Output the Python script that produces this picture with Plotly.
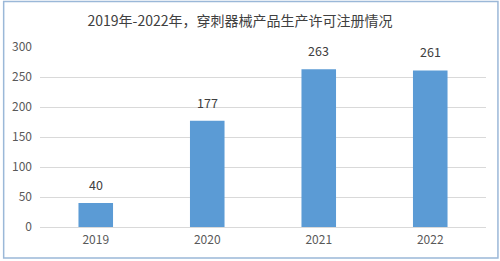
import plotly.graph_objects as go

years = ["2019", "2020", "2021", "2022"]
counts = [40, 177, 263, 261]
y_ticks = [0, 50, 100, 150, 200, 250, 300]
title_text = "2019年-2022年，穿刺器械产品生产许可注册情况"

W, H = 500, 261
L, R, T, B = 38, 14, 47, 34
pw, ph = W - L - R, H - T - B

fig = go.Figure(go.Bar(
    x=years, y=counts,
    marker=dict(color="#5b9bd5", line=dict(width=0)),
    cliponaxis=False,
))

# category axis: annotation x given as category index
for i, v in enumerate(counts):
    fig.add_annotation(x=i, y=v, xref="x", yref="y", text=str(v), showarrow=False,
                       yanchor="bottom", yshift=7, font=dict(size=12.5, color="#404040"))

def px_x(p):
    return (p - L) / pw

def px_y(p):
    return (H - B - p) / ph

fig.add_shape(type="rect", xref="paper", yref="paper",
              x0=px_x(1.5), x1=px_x(498), y0=px_y(258), y1=px_y(1.5),
              line=dict(color="#9bb8d8", width=1.5), fillcolor="rgba(0,0,0,0)")

fig.update_layout(
    width=W, height=H,
    margin=dict(l=L, r=R, t=T, b=B),
    paper_bgcolor="white", plot_bgcolor="white",
    bargap=0.69,
    showlegend=False,
    font=dict(family="Noto Sans CJK SC, Noto Sans, sans-serif", color="#595959"),
    title=dict(text=title_text, x=240 / W, xanchor="center", y=1 - 21 / H, yanchor="middle",
               font=dict(size=14, color="#404040")),
    xaxis=dict(type="category", range=[-0.5, len(years) - 0.5], showgrid=False, showline=False,
               ticks="", tickfont=dict(size=12, color="#595959"), ticklabelstandoff=4),
    yaxis=dict(range=[0, 300], tickvals=y_ticks, showgrid=True, gridcolor="#d9d9d9", gridwidth=1,
               zeroline=True, zerolinecolor="#d9d9d9", zerolinewidth=1,
               showline=False, ticks="", tickfont=dict(size=12, color="#595959"),
               ticklabelstandoff=7),
)

fig.write_html("out.html")
